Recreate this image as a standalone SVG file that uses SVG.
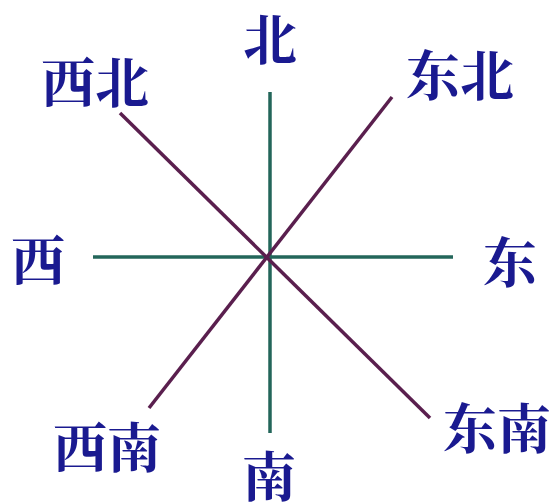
<svg xmlns="http://www.w3.org/2000/svg" width="555" height="504" viewBox="0 0 555 504">
<style>
.lbl{font-family:"Noto Serif CJK SC","Noto Sans CJK SC",serif;font-weight:700;font-size:54px;fill:#1a1a90;text-anchor:middle}
.axis{stroke:#23665a;stroke-width:3.5;stroke-linecap:butt;fill:none}
.diag{stroke:#5a1f4e;stroke-width:3.5;stroke-linecap:butt;fill:none}
</style>
<rect width="555" height="504" fill="#ffffff"/>
<g id="connectors">
<line class="axis" x1="270" y1="92" x2="270" y2="433"/>
<line class="axis" x1="93" y1="257" x2="453" y2="257"/>
<line class="diag" x1="120" y1="113" x2="430" y2="418"/>
<line class="diag" x1="392" y1="97" x2="149" y2="408"/>
</g>
<g id="north"><text class="lbl" x="270" y="60">北</text></g>
<g id="northwest"><text class="lbl" x="95" y="103">西北</text></g>
<g id="northeast"><text class="lbl" x="460" y="96">东北</text></g>
<g id="west"><text class="lbl" x="38" y="281">西</text></g>
<g id="east"><text class="lbl" x="510" y="283">东</text></g>
<g id="southwest"><text class="lbl" x="107" y="468">西南</text></g>
<g id="south"><text class="lbl" x="269" y="497">南</text></g>
<g id="southeast"><text class="lbl" x="497" y="449">东南</text></g>
</svg>
